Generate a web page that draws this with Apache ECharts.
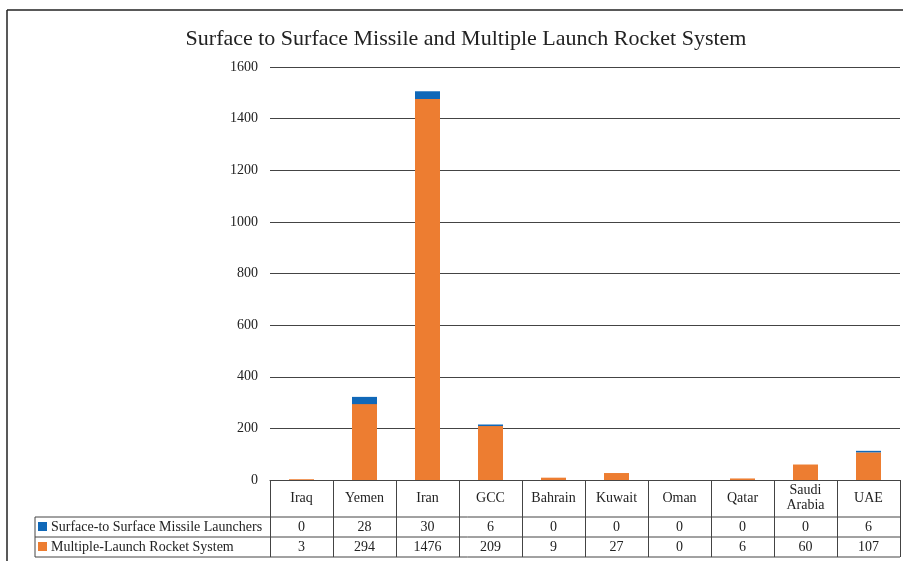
<!DOCTYPE html>
<html>
<head>
<meta charset="utf-8">
<script src="https://cdn.jsdelivr.net/npm/echarts@6/dist/echarts.min.js"></script>
<style>html,body{margin:0;padding:0;background:#fff}#c{width:903px;height:561px}</style>
</head>
<body>
<div id="c"></div>
<script>
const categories = ['Iraq','Yemen','Iran','GCC','Bahrain','Kuwait','Oman','Qatar','Saudi\nArabia','UAE'];
const missileLaunchers = [0,28,30,6,0,0,0,0,0,6];
const rocketSystems = [3,294,1476,209,9,27,0,6,60,107];
const yTicks = {min:0, max:1600, interval:200};
const seriesNames = ['Surface-to Surface Missile Launchers','Multiple-Launch Rocket System'];

const FONT = 'Liberation Serif';
const BLUE = '#1068B8';
const ORANGE = '#ED7D31';
const LINE = '#444';
const FS = 14;

const chart = echarts.init(document.getElementById('c'));

function valueAxis(values, margin) {
  return {
    type:'category', data:categories, position:'bottom', gridIndex:0,
    axisLine:{show:false}, axisTick:{show:false}, splitLine:{show:false},
    axisLabel:{interval:0, margin:margin, verticalAlign:'middle',
      fontFamily:FONT, fontSize:FS, color:'#222',
      formatter:(v,i)=>String(values[i])}
  };
}

const tableLeft = 35, tableRight = 900;
const rowLines = [517, 537, 557];

chart.setOption({
  animation:false,
  title:{text:'Surface to Surface Missile and Multiple Launch Rocket System',
    left:461, top:23, textAlign:'center',
    textStyle:{fontFamily:FONT, fontSize:22, fontWeight:'normal', color:'#222'}},
  grid:{left:270, right:3, top:67, bottom:81},
  xAxis:[
    {type:'category', data:categories, position:'bottom',
      axisLine:{show:true, lineStyle:{color:LINE, width:1}},
      axisTick:{show:true, interval:0, length:77, lineStyle:{color:LINE, width:1}},
      axisLabel:{interval:0, margin:18, verticalAlign:'middle', lineHeight:15,
        fontFamily:FONT, fontSize:FS, color:'#222'}},
    valueAxis(missileLaunchers, 47),
    valueAxis(rocketSystems, 67)
  ],
  yAxis:{type:'value', min:yTicks.min, max:yTicks.max, interval:yTicks.interval,
    axisLine:{show:false}, axisTick:{show:false},
    axisLabel:{margin:12, fontFamily:FONT, fontSize:FS, color:'#222', formatter:v=>String(v)},
    splitLine:{lineStyle:{color:LINE, width:1}}},
  series:[
    {name:seriesNames[1], type:'bar', stack:'s', data:rocketSystems, barWidth:25,
      itemStyle:{color:ORANGE}},
    {name:seriesNames[0], type:'bar', stack:'s', data:missileLaunchers, barWidth:25,
      itemStyle:{color:BLUE}}
  ],
  graphic:[
    {type:'line', shape:{x1:7,y1:10,x2:903,y2:10}, style:{stroke:'#222', lineWidth:1.5}},
    {type:'line', shape:{x1:7,y1:10,x2:7,y2:561}, style:{stroke:'#222', lineWidth:1.5}},
    ...rowLines.map(y=>({type:'line', shape:{x1:tableLeft,y1:y,x2:tableRight,y2:y}, style:{stroke:LINE, lineWidth:1}})),
    {type:'line', shape:{x1:tableLeft,y1:rowLines[0],x2:tableLeft,y2:rowLines[2]}, style:{stroke:LINE, lineWidth:1}},
    {type:'rect', shape:{x:38,y:522,width:9,height:9}, style:{fill:BLUE}},
    {type:'text', x:51, y:527, style:{text:seriesNames[0], fontFamily:FONT, fontSize:FS, fill:'#222', verticalAlign:'middle'}},
    {type:'rect', shape:{x:38,y:542,width:9,height:9}, style:{fill:ORANGE}},
    {type:'text', x:51, y:547, style:{text:seriesNames[1], fontFamily:FONT, fontSize:FS, fill:'#222', verticalAlign:'middle'}}
  ]
});
</script>
</body>
</html>
